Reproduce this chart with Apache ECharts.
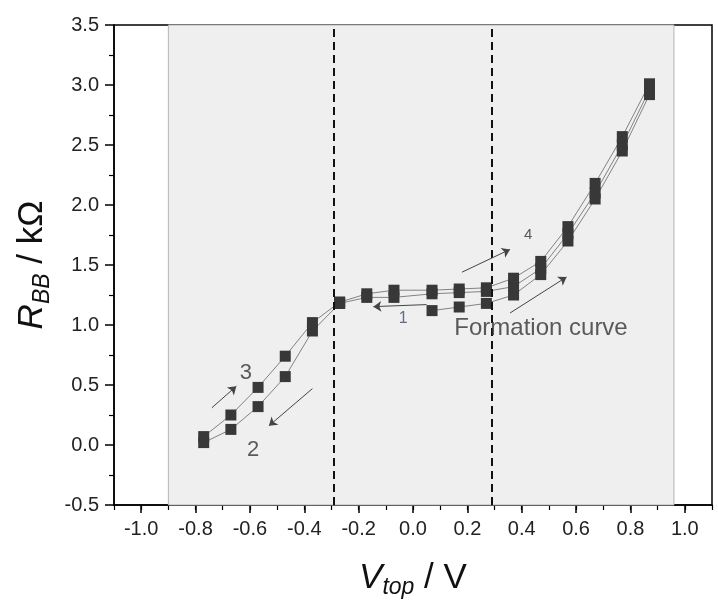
<!DOCTYPE html>
<html><head><meta charset="utf-8">
<script src="https://cdn.jsdelivr.net/npm/echarts@6/dist/echarts.min.js"></script>
<style>html,body{margin:0;padding:0;background:#fff}#c{width:718px;height:608px}</style>
</head><body><div id="c"></div>
<script>
// ---- data ----
const formationX = [0.07, 0.17, 0.27, 0.37, 0.47, 0.57, 0.67, 0.77, 0.87];
const formationY = [1.12, 1.15, 1.18, 1.25, 1.42, 1.70, 2.05, 2.45, 2.92];
const curve1X = [0.87, 0.77, 0.67, 0.57, 0.47, 0.37, 0.27, 0.17, 0.07, -0.07, -0.17, -0.27];
const curve1Y = [2.96, 2.50, 2.10, 1.76, 1.47, 1.32, 1.28, 1.27, 1.26, 1.23, 1.23, 1.18];
const curve2X = [-0.27, -0.37, -0.47, -0.57, -0.67, -0.77];
const curve2Y = [1.18, 0.95, 0.57, 0.32, 0.13, 0.02];
const curve3X = [-0.77, -0.67, -0.57, -0.47, -0.37, -0.27];
const curve3Y = [0.07, 0.25, 0.48, 0.74, 1.02, 1.19];
const curve4X = [-0.27, -0.17, -0.07, 0.07, 0.17, 0.27, 0.37, 0.47, 0.57, 0.67, 0.77, 0.87];
const curve4Y = [1.19, 1.26, 1.29, 1.29, 1.30, 1.31, 1.39, 1.53, 1.82, 2.18, 2.57, 3.01];

const dashedLinesX = [-0.29, 0.29];
const shadedRange = [-0.9, 0.96];

const arrowStart = [[-0.74, 0.31], [-0.37, 0.47], [0.05, 1.17], [0.18, 1.44], [0.357, 1.10]];
const arrowEnd   = [[-0.65, 0.49], [-0.53, 0.16], [-0.146, 1.153], [0.357, 1.63], [0.565, 1.40]];

const annText = ['3', '2', '1', '4', 'Formation curve'];
const annPos  = [[-0.615, 0.60], [-0.588, -0.04], [-0.036, 1.055], [0.424, 1.75], [0.471, 0.975]];
const annSize = [22, 22, 16, 15, 24];
const annColor = ['#333', '#333', '#3d4b6e', '#333', '#333'];

const xMin = -1.1, xMax = 1.1, yMin = -0.5, yMax = 3.5;

// ---- layout ----
const W = 718, H = 608;
const gLeft = 114, gRight = 6, gTop = 25, gBottom = 103;
const pxPerUnit = (W - gLeft - gRight) / (xMax - xMin);
const g2Left = gLeft + (-1.0 - xMin) * pxPerUnit;
const g2Right = gRight + (xMax - 1.0) * pxPerUnit;

const FONT = 'Arial, "Liberation Sans", sans-serif';
const zip = (a, b) => a.map((v, i) => [v, b[i]]);

const lineSeries = (name, xs, ys, extra) => Object.assign({
  name, type: 'line', xAxisIndex: 0, yAxisIndex: 0,
  data: zip(xs, ys),
  symbol: 'rect', symbolSize: 11,
  itemStyle: { color: '#383838' },
  lineStyle: { color: '#666', width: 0.8 },
  emphasis: { disabled: true }, animation: false
}, extra || {});

const chart = echarts.init(document.getElementById('c'), null, { renderer: 'canvas' });
chart.setOption({
  backgroundColor: '#fff',
  animation: false,
  grid: [
    { left: gLeft, right: gRight, top: gTop, bottom: gBottom, show: true, borderColor: '#000', borderWidth: 1.5, backgroundColor: 'transparent' },
    { left: g2Left, right: g2Right, top: gTop, bottom: gBottom, show: false }
  ],
  xAxis: [
    {
      gridIndex: 0, type: 'value', min: xMin, max: xMax, interval: 0.1,
      axisLine: { show: true, onZero: false, lineStyle: { color: '#000', width: 1.5 } },
      axisTick: { show: true, length: 5, lineStyle: { color: '#000', width: 1.2 } },
      axisLabel: { show: false }, splitLine: { show: false },
      name: '{i|V}{s|top}{n| / V}', nameLocation: 'middle', nameGap: 52,
      nameTextStyle: {
        rich: {
          i: { fontFamily: FONT, fontSize: 35, fontStyle: 'italic', color: '#111', lineHeight: 42 },
          s: { fontFamily: FONT, fontSize: 23, fontStyle: 'italic', color: '#111', lineHeight: 20, verticalAlign: 'bottom' },
          n: { fontFamily: FONT, fontSize: 35, color: '#111', lineHeight: 42 }
        }
      }
    },
    {
      gridIndex: 1, type: 'value', min: -1.0, max: 1.0, interval: 0.2, position: 'bottom',
      axisLine: { show: false, onZero: false },
      axisTick: { show: true, length: 8, lineStyle: { color: '#000', width: 1.5 } },
      axisLabel: { show: true, margin: 14, fontFamily: FONT, fontSize: 20, color: '#222',
        formatter: v => v.toFixed(1) },
      splitLine: { show: false }
    }
  ],
  yAxis: [
    {
      gridIndex: 0, type: 'value', min: yMin, max: yMax, interval: 0.5,
      axisLine: { show: true, onZero: false, lineStyle: { color: '#000', width: 1.5 } },
      axisTick: { show: true, length: 9, lineStyle: { color: '#000', width: 1.5 } },
      minorTick: { show: true, splitNumber: 2, length: 5, lineStyle: { color: '#000', width: 1.2 } },
      axisLabel: { show: true, margin: 15, fontFamily: FONT, fontSize: 20, color: '#222',
        formatter: v => v.toFixed(1) },
      splitLine: { show: false },
      name: '{i|R}{s|BB}{n| / kΩ}', nameLocation: 'middle', nameGap: 54, nameRotate: 90,
      nameTextStyle: {
        rich: {
          i: { fontFamily: FONT, fontSize: 35, fontStyle: 'italic', color: '#111', lineHeight: 42 },
          s: { fontFamily: FONT, fontSize: 23, fontStyle: 'italic', color: '#111', lineHeight: 20, verticalAlign: 'bottom' },
          n: { fontFamily: FONT, fontSize: 35, color: '#111', lineHeight: 42 }
        }
      }
    },
    { gridIndex: 1, type: 'value', min: yMin, max: yMax, show: false }
  ],
  series: [
    lineSeries('Formation curve', formationX, formationY, {
      z: 3,
      markArea: {
        silent: true,
        itemStyle: { color: '#efefef', borderColor: '#b4b4b4', borderWidth: 1 },
        data: [[{ xAxis: shadedRange[0] }, { xAxis: shadedRange[1] }]]
      }
    }),
    lineSeries('1', curve1X, curve1Y, { z: 3 }),
    lineSeries('2', curve2X, curve2Y, { z: 3 }),
    lineSeries('3', curve3X, curve3Y, { z: 3 }),
    lineSeries('4', curve4X, curve4Y, {
      z: 3,
      markLine: {
        silent: true, symbol: ['none', 'none'], label: { show: false },
        lineStyle: { color: '#111', width: 2, type: [8, 5] },
        data: dashedLinesX.map(x => ({ xAxis: x }))
      }
    }),
    {
      type: 'scatter', xAxisIndex: 0, yAxisIndex: 0, silent: true, z: 5,
      symbolSize: 0,
      data: annText.map((t, i) => ({
        value: annPos[i], name: t,
        label: { show: true, position: 'inside', formatter: t, fontFamily: FONT, fontSize: annSize[i], color: annColor[i] }
      })),
      markLine: {
        silent: true, symbol: ['none', 'arrow'], symbolSize: 8, label: { show: false },
        lineStyle: { color: '#444', width: 1, type: 'solid' },
        data: arrowStart.map((s, i) => [{ coord: s }, { coord: arrowEnd[i] }])
      }
    }
  ]
});
</script></body></html>
